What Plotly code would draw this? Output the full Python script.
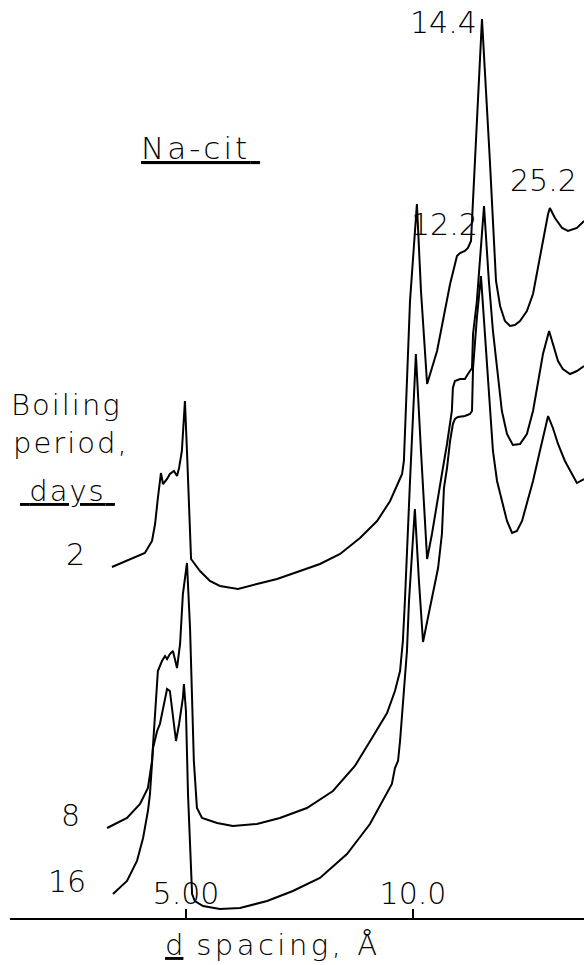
import math
import plotly.graph_objects as go

# X-ray diffraction traces of Na-citrate treated clay after boiling.
# x: diffraction angle 2-theta (degrees, Cu K-alpha), plotted decreasing to the right
# y: relative intensity (arbitrary units, traces offset vertically)

WAVELENGTH = 1.5418  # Cu K-alpha, angstrom

boiling_days = ["2", "8", "16"]

two_theta_2d = [20.64, 19.35, 19.07, 18.95, 18.84, 18.72, 18.64, 18.48, 18.37, 18.21,
                18.09, 18.01, 17.90, 17.78, 17.70, 17.54, 17.19, 16.80, 16.41, 15.70,
                14.96, 14.17, 13.27, 12.49, 11.70, 10.92, 10.25, 9.74, 9.27, 9.20,
                8.96, 8.69, 8.53, 8.29, 7.90, 7.59, 7.39, 7.12, 7.00, 6.81,
                6.69, 6.57, 6.14, 5.83, 5.59, 5.43, 5.24, 5.04, 4.85, 4.65,
                4.38, 4.14, 3.95, 3.75, 3.55, 3.48, 3.28, 3.00, 2.77, 2.42, 2.14]
intensity_2d = [35.1, 36.5, 37.7, 39.4, 42.0, 44.5, 43.4, 43.9, 44.4, 44.7,
                44.2, 45.0, 46.7, 51.7, 46.7, 35.9, 34.7, 33.7, 33.2, 32.9,
                33.4, 33.9, 34.7, 35.4, 36.4, 38.0, 39.7, 41.7, 44.4, 45.7,
                61.7, 71.4, 62.7, 53.4, 56.7, 60.7, 63.4, 66.2, 66.5, 66.7,
                67.0, 67.7, 89.9, 75.7, 63.7, 61.2, 59.7, 59.2, 59.3, 59.7,
                60.7, 62.4, 65.0, 67.7, 70.4, 71.0, 70.0, 69.0, 68.7, 69.0, 69.7]

two_theta_8d = [20.83, 20.05, 19.54, 19.23, 19.07, 18.95, 18.84, 18.68, 18.56, 18.48,
                18.37, 18.25, 18.17, 18.09, 17.97, 17.86, 17.70, 17.58, 17.43, 17.31,
                17.11, 16.52, 15.90, 14.96, 14.06, 13.00, 11.98, 11.12, 10.45, 9.86,
                9.55, 9.35, 9.24, 9.16, 8.96, 8.73, 8.53, 8.29, 8.10, 7.90,
                7.71, 7.51, 7.32, 7.28, 7.20, 7.00, 6.81, 6.69, 6.53, 6.49,
                6.34, 6.06, 5.87, 5.71, 5.55, 5.36, 5.16, 4.93, 4.65, 4.38,
                4.14, 3.95, 3.75, 3.51, 3.36, 3.16, 2.97, 2.69, 2.42, 2.14]
intensity_8d = [9.0, 10.0, 11.4, 13.0, 15.7, 20.7, 24.7, 25.7, 26.2, 25.9,
                26.4, 26.7, 25.7, 25.0, 27.4, 32.4, 35.5, 29.0, 15.7, 11.0,
                10.0, 9.5, 9.2, 9.4, 10.0, 11.0, 12.7, 15.2, 18.0, 20.5,
                22.7, 24.7, 27.7, 31.7, 43.7, 56.4, 46.7, 35.9, 38.4, 41.7,
                44.4, 47.4, 50.7, 53.0, 53.7, 53.9, 53.9, 54.4, 55.0, 58.4,
                61.7, 71.2, 63.7, 58.7, 55.0, 50.7, 48.4, 47.3, 47.4, 48.4,
                50.7, 53.4, 56.4, 58.7, 57.4, 55.7, 54.9, 54.4, 54.7, 55.2]

two_theta_16d = [20.60, 20.05, 19.66, 19.42, 19.23, 19.15, 19.03, 18.87, 18.76, 18.64,
                 18.48, 18.37, 18.25, 18.13, 18.01, 17.86, 17.82, 17.74, 17.66, 17.58,
                 17.50, 17.39, 17.07, 16.41, 15.62, 14.56, 13.55, 12.49, 11.43, 10.53,
                 9.86, 9.67, 9.55, 9.43, 9.35, 9.24, 9.08, 9.00, 8.88, 8.77,
                 8.61, 8.45, 8.26, 8.06, 7.86, 7.71, 7.63, 7.51, 7.39, 7.28,
                 7.20, 7.08, 6.81, 6.61, 6.53, 6.49, 6.34, 6.18, 6.02, 5.83,
                 5.71, 5.55, 5.36, 5.16, 4.96, 4.77, 4.57, 4.38, 4.14, 3.87,
                 3.67, 3.55, 3.36, 3.16, 2.89, 2.61, 2.42, 2.14]
intensity_16d = [2.4, 3.7, 5.7, 8.0, 10.7, 12.4, 17.0, 18.7, 19.4, 21.0,
                 22.9, 22.7, 20.0, 17.7, 19.4, 22.0, 23.4, 20.7, 12.4, 7.4,
                 2.4, 1.7, 1.2, 0.9, 1.0, 1.7, 2.7, 4.0, 6.4, 9.4,
                 12.4, 13.4, 15.0, 15.7, 17.7, 21.7, 26.7, 31.7, 36.7, 40.9,
                 33.7, 27.6, 30.0, 32.4, 35.0, 38.4, 43.0, 45.0, 47.7, 49.4,
                 49.9, 50.1, 50.2, 50.4, 50.7, 55.0, 60.0, 64.2, 58.4, 51.7,
                 46.7, 43.7, 41.7, 39.7, 38.5, 38.7, 39.7, 41.4, 43.7, 46.7,
                 49.0, 50.2, 49.0, 47.4, 45.7, 44.4, 43.5, 43.9]

# axis ticks given as d spacings (angstrom)
tick_d = [5.00, 10.0]
tick_text = ["5.00", "10.0"]

# labelled reflections (angstrom)
peak_d = [14.4, 12.2, 25.2]
peak_text = ["14.4", "12.2", "25.2"]


def two_theta(d):
    return 2 * math.degrees(math.asin(WAVELENGTH / (2 * d)))


W, H = 584, 965
ML, MR, MT, MB = 10, 0, 0, 47
X_RANGE = [24.635, 2.142]
Y_RANGE = [0, 91.8]

FONT = "DejaVu Sans"
WEIGHT = 200
INK = "black"


def spaced(text, px):
    """Lettering with a little extra tracking between characters."""
    return f'<span style="letter-spacing:{px}px">{text}</span>'


series = [
    (boiling_days[0], two_theta_2d, intensity_2d),
    (boiling_days[1], two_theta_8d, intensity_8d),
    (boiling_days[2], two_theta_16d, intensity_16d),
]

fig = go.Figure()
for name, xs, ys in series:
    fig.add_trace(go.Scatter(x=xs, y=ys, mode="lines", name=name,
                             line=dict(color=INK, width=2),
                             showlegend=False, hoverinfo="skip"))


def paper(px, py):
    """Convert a position in page pixels to paper coordinates."""
    return (px - ML) / (W - ML - MR), (H - MB - py) / (H - MT - MB)


def font(size):
    return dict(family=FONT, size=size, color=INK, weight=WEIGHT)


annotations = []

# curve labels: number of boiling days, placed left of each trace start
for name, xs, ys in series:
    annotations.append(dict(x=xs[0], y=ys[0], xref="x", yref="y", text=name,
                            xanchor="right", yanchor="middle",
                            xshift=-25, yshift=13, showarrow=False,
                            font=font(30)))

# peak labels, positioned against the uppermost trace
peak_style = {
    "14.4": dict(xanchor="right", yanchor="middle", xshift=-3, yshift=-3),
    "12.2": dict(xanchor="center", yanchor="middle", xshift=-9, yshift=32),
    "25.2": dict(xanchor="center", yanchor="bottom", xshift=-6, yshift=8),
}
for d, label in zip(peak_d, peak_text):
    tt = two_theta(d)
    nearest = min(range(len(two_theta_2d)), key=lambda i: abs(two_theta_2d[i] - tt))
    annotations.append(dict(x=tt, y=intensity_2d[nearest], xref="x", yref="y",
                            text=label, showarrow=False, font=font(30),
                            **peak_style[label]))

# title and legend block
for text, (px, py), size in [
    ("<u>" + spaced("Na-cit", 3) + "\u00a0</u>", (200, 148), 31),
    (spaced("Boiling", 2), (66, 405), 29),
    (spaced("period,", 2), (71, 443), 29),
    ("<u>\u00a0" + spaced("days", 2) + "\u00a0</u>", (67, 491), 29),
    ("<u>d</u>" + spaced(" spacing, Å", 3.5), (273, 945), 29),
]:
    x0, y0 = paper(px, py)
    annotations.append(dict(x=x0, y=y0, xref="paper", yref="paper", text=text,
                            xanchor="center", yanchor="middle", showarrow=False,
                            font=font(size)))

fig.update_layout(
    width=W, height=H,
    margin=dict(l=ML, r=MR, t=MT, b=MB, pad=0),
    paper_bgcolor="white", plot_bgcolor="white",
    annotations=annotations,
    xaxis=dict(range=X_RANGE, showgrid=False, zeroline=False,
               showline=True, linecolor=INK, linewidth=2,
               ticks="inside", ticklen=9, tickwidth=1.5, tickcolor=INK,
               tickvals=[two_theta(d) for d in tick_d], ticktext=tick_text,
               ticklabelposition="inside", ticklabelstandoff=2,
               tickfont=font(30)),
    yaxis=dict(range=Y_RANGE, visible=False, showgrid=False, zeroline=False),
)

fig.write_html("out.html")
